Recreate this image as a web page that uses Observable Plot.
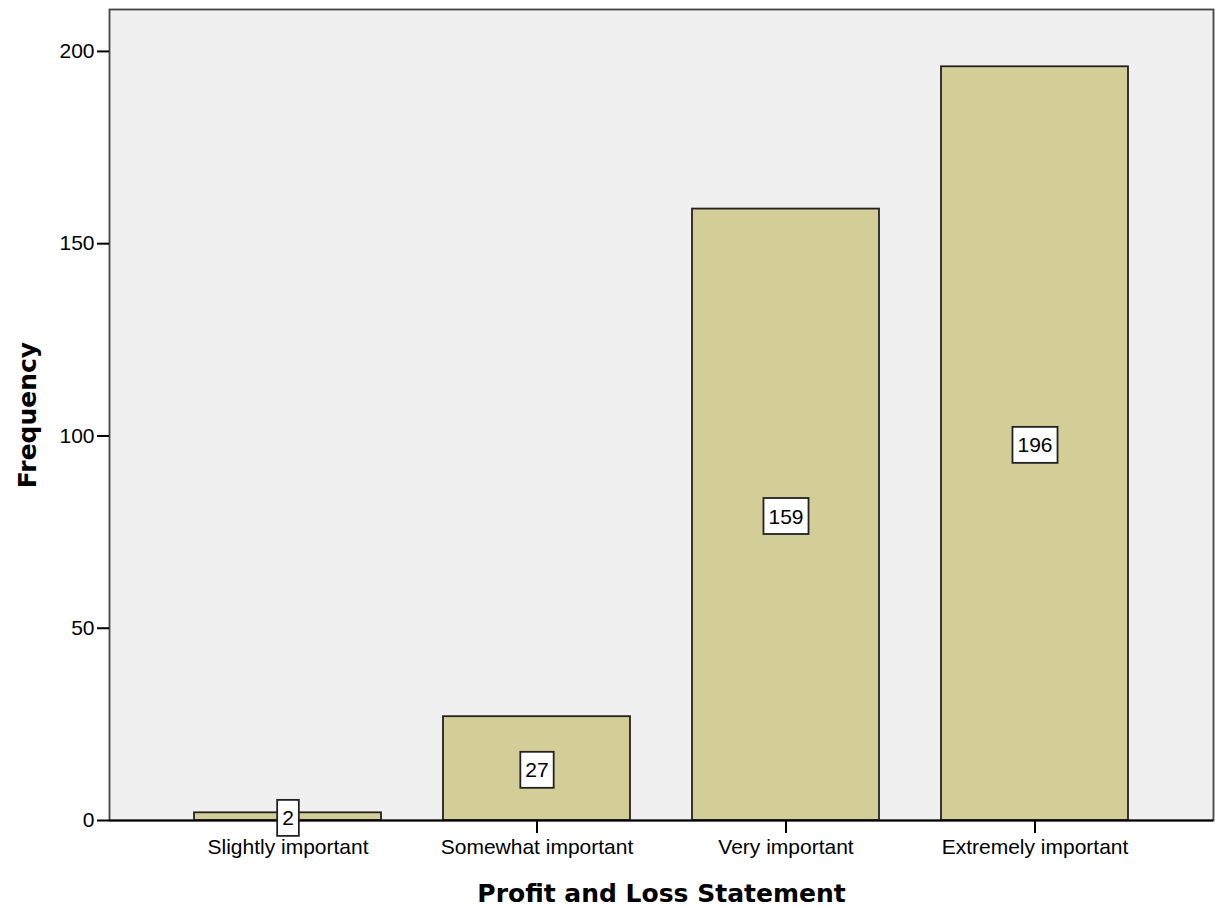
<!DOCTYPE html>
<html>
<head>
<meta charset="utf-8">
<script src="https://cdn.jsdelivr.net/npm/d3@7"></script>
<script src="https://cdn.jsdelivr.net/npm/@observablehq/plot@0.6"></script>
<style>
  body { margin: 0; background: #fff; }
</style>
</head>
<body>
<div id="chart"></div>
<script>
// Response categories and their counts
const categories = ["Slightly important", "Somewhat important", "Very important", "Extremely important"];
const frequencies = [2, 27, 159, 196];
const yTicks = [0, 50, 100, 150, 200];
const xTitle = "Profit and Loss Statement";
const yTitle = "Frequency";

const rows = categories.map((category, i) => ({category, frequency: frequencies[i]}));

const titleFont = '"DejaVu Sans", Verdana, sans-serif';

const chart = Plot.plot({
  width: 1215,
  height: 908,
  marginLeft: 109,
  marginRight: 2,
  marginTop: 9,
  marginBottom: 88,
  style: {fontFamily: '"Liberation Sans", Arial, sans-serif', fontSize: "21px", background: "#fff", color: "#000"},
  x: {domain: categories, paddingInner: 0.249, paddingOuter: 0.34, label: null},
  y: {domain: [0, 210.9], label: null},
  marks: [
    Plot.frame({fill: "#f0f0f0"}),
    Plot.barY(rows, {x: "category", y: "frequency", fill: "#d3ce97", stroke: "#222", strokeWidth: 1.8}),
    Plot.frame({stroke: "#444", strokeWidth: 1.8}),
    Plot.ruleY([0], {stroke: "#000", strokeWidth: 2}),
    Plot.axisY({ticks: yTicks, tickSize: 12, tickPadding: 3, tickFormat: d => String(d), fontSize: 21, label: null, strokeWidth: 2}),
    Plot.axisX({tickSize: 13, tickPadding: 6, fontSize: 21, label: null, strokeWidth: 2}),
    // value labels at mid-height of each bar
    Plot.text(rows, {x: "category", y: d => d.frequency / 2, dy: 2, text: d => String(d.frequency), fontSize: 21, fill: "#000", lineAnchor: "middle"}),
    Plot.text([xTitle], {frameAnchor: "bottom", dy: 73, text: d => d, fontSize: 25, fontWeight: "bold", fontFamily: titleFont, fill: "#000", lineAnchor: "middle", textAnchor: "middle"}),
    Plot.text([yTitle], {frameAnchor: "left", dx: -82, rotate: -90, text: d => d, fontSize: 25, fontWeight: "bold", fontFamily: titleFont, fill: "#000", lineAnchor: "middle", textAnchor: "middle"})
  ]
});

document.getElementById("chart").append(chart);

// Put a white boxed background behind each numeric value label
const svgNS = "http://www.w3.org/2000/svg";
chart.querySelectorAll('g[aria-label="text"] text').forEach(t => {
  if (!/^\d+$/.test(t.textContent.trim())) return;
  const b = t.getBBox();
  const cy = b.y + b.height / 2;
  const r = document.createElementNS(svgNS, "rect");
  r.setAttribute("x", b.x - 5);
  r.setAttribute("y", cy - 18);
  r.setAttribute("width", b.width + 10);
  r.setAttribute("height", 36);
  r.setAttribute("fill", "#fff");
  r.setAttribute("stroke", "#222");
  r.setAttribute("stroke-width", 1.8);
  const tr = t.getAttribute("transform");
  if (tr) r.setAttribute("transform", tr);
  t.parentNode.insertBefore(r, t);
});
</script>
</body>
</html>
